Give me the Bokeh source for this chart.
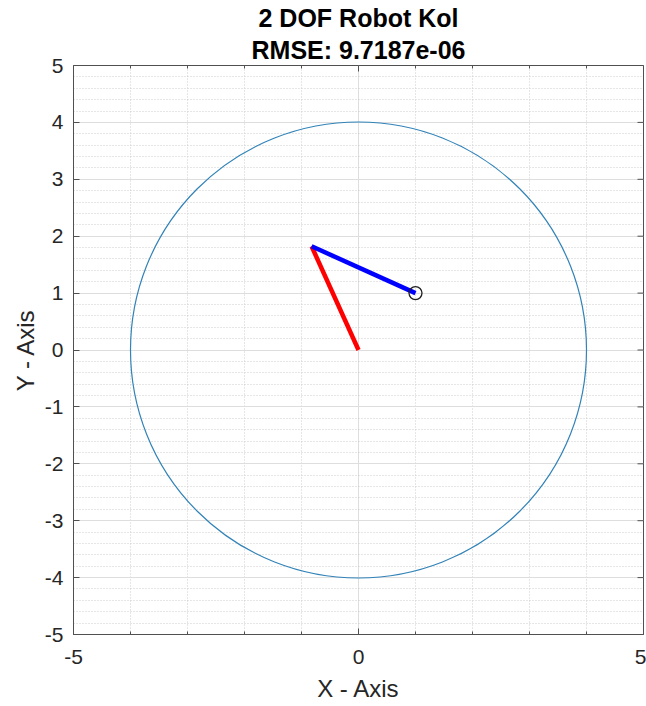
import math
from bokeh.plotting import figure
from bokeh.models import Range1d, FixedTicker, Title
from bokeh.embed import file_html
from bokeh.resources import INLINE

# ---- data ----
title_line1 = "2 DOF Robot Kol"
title_line2 = "RMSE: 9.7187e-06"
x_major_ticks = [-5, 0, 5]
x_minor_ticks = [-4, -3, -2, -1, 1, 2, 3, 4]
y_major_ticks = [-5, -4, -3, -2, -1, 0, 1, 2, 3, 4, 5]
y_minor_ticks = [-4.8, -4.6, -4.4, -4.2, -3.8, -3.6, -3.4, -3.2, -2.8, -2.6, -2.4, -2.2,
                 -1.8, -1.6, -1.4, -1.2, -0.8, -0.6, -0.4, -0.2, 0.2, 0.4, 0.6, 0.8,
                 1.2, 1.4, 1.6, 1.8, 2.2, 2.4, 2.6, 2.8, 3.2, 3.4, 3.6, 3.8,
                 4.2, 4.4, 4.6, 4.8]
x_lim = [-5, 5]
y_lim = [-5, 5]
workspace_center_x = [0.0]
workspace_center_y = [0.0]
workspace_radius = 4.0
link1_x = [0.0, -0.823]
link1_y = [0.0, 1.823]
link2_x = [-0.823, 1.0]
link2_y = [1.823, 1.0]
target_x = [1.0]
target_y = [1.0]

FONT = "Liberation Sans"
TXT = "#262626"
AX = "#505050"

p = figure(width=646, height=706, output_backend="svg", toolbar_location=None,
           x_range=Range1d(*x_lim), y_range=Range1d(*y_lim),
           min_border_left=73, min_border_right=3, min_border_top=65, min_border_bottom=72)
p.background_fill_color = "white"
p.border_fill_color = "white"
p.outline_line_color = AX
p.outline_line_width = 1

# title: two separately centred lines (the added Title sits nearest the frame)
p.title.text = title_line1
p.title.align = "center"
p.title.text_font = FONT
p.title.text_font_size = "25px"
p.title.text_font_style = "bold"
p.title.text_color = "black"
p.title.standoff = 0
p.add_layout(Title(text=title_line2, align="center", text_font=FONT, text_font_size="25px",
                   text_font_style="bold", text_color="black", standoff=4), "above")

xt = FixedTicker(ticks=x_major_ticks, minor_ticks=x_minor_ticks)
yt = FixedTicker(ticks=y_major_ticks, minor_ticks=y_minor_ticks)

xa = p.xaxis[0]
xa.ticker = xt
ya = p.yaxis[0]
ya.ticker = yt
xa.major_label_overrides = {t: str(t) for t in x_major_ticks}
ya.major_label_overrides = {t: str(t) for t in y_major_ticks}

for ax in (xa, ya):
    ax.axis_line_color = AX
    ax.major_tick_line_color = AX
    ax.minor_tick_line_color = AX
    ax.major_tick_in = 6
    ax.major_tick_out = 0
    ax.major_label_text_font = FONT
    ax.major_label_text_font_size = "21px"
    ax.major_label_text_color = TXT
    ax.axis_label_text_font = FONT
    ax.axis_label_text_font_size = "24px"
    ax.axis_label_text_font_style = "normal"
    ax.axis_label_text_color = TXT

xa.minor_tick_in = 3
xa.minor_tick_out = 0
ya.minor_tick_in = 0
ya.minor_tick_out = 0
xa.axis_label = "X - Axis"
ya.axis_label = "Y - Axis"
xa.major_label_standoff = 15
ya.major_label_standoff = 10
xa.axis_label_standoff = 8
ya.axis_label_standoff = 3

# box ticks on top / right edges (half of each dash is clipped by the frame)
p.scatter(x=x_major_ticks, y=[y_lim[1]] * len(x_major_ticks), marker="dash", size=12,
          angle=math.pi / 2, line_color=AX, line_width=1)
p.scatter(x=x_minor_ticks, y=[y_lim[1]] * len(x_minor_ticks), marker="dash", size=6,
          angle=math.pi / 2, line_color=AX, line_width=1)
p.scatter(x=[x_lim[1]] * len(y_major_ticks), y=y_major_ticks, marker="dash", size=12,
          line_color=AX, line_width=1)

# grids
p.xgrid.ticker = xt
p.ygrid.ticker = yt
for g in (p.xgrid[0], p.ygrid[0]):
    g.grid_line_color = "#dedede"
    g.grid_line_width = 1
    g.minor_grid_line_color = "#cccccc"
    g.minor_grid_line_dash = "1 2"
    g.minor_grid_line_width = 1

# workspace circle
p.circle(x=workspace_center_x, y=workspace_center_y, radius=workspace_radius,
         fill_color=None, line_color="#3283b8", line_width=1.2)

# links
p.line(link1_x, link1_y, line_color="#ff0000", line_width=4.5)
p.line(link2_x, link2_y, line_color="#0000ff", line_width=4.5)

# target marker
p.scatter(x=target_x, y=target_y, marker="circle", size=13, fill_color=None,
          line_color="#202020", line_width=1.3)

open("out.html", "w").write(file_html(p, INLINE))
